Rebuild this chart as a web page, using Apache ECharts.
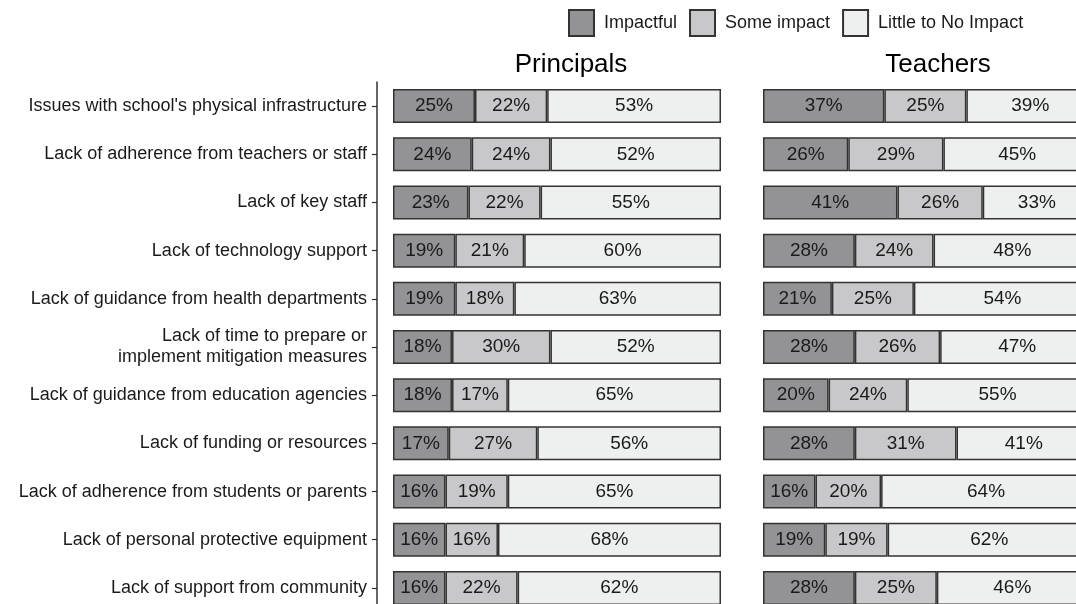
<!DOCTYPE html>
<html>
<head>
<meta charset="utf-8">
<title>Barriers to mitigation</title>
<script src="https://cdn.jsdelivr.net/npm/echarts@6/dist/echarts.min.js"></script>
<style>
  html, body { margin: 0; padding: 0; background: #fff; overflow: hidden; }
  /* canvas a bit larger than the window: bars and rows run past the edges like in the source */
  #chart { width: 1110px; height: 620px; }
</style>
</head>
<body>
<div id="chart"></div>
<script>
// categories, top to bottom
var categories = [
  "Issues with school's physical infrastructure",
  'Lack of adherence from teachers or staff',
  'Lack of key staff',
  'Lack of technology support',
  'Lack of guidance from health departments',
  'Lack of time to prepare or\nimplement mitigation measures',
  'Lack of guidance from education agencies',
  'Lack of funding or resources',
  'Lack of adherence from students or parents',
  'Lack of personal protective equipment',
  'Lack of support from community'
];
var levels = ['Impactful', 'Some impact', 'Little to No Impact'];
var panels = ['Principals', 'Teachers'];

var principalsImpactful = [25, 24, 23, 19, 19, 18, 18, 17, 16, 16, 16];
var principalsSome = [22, 24, 22, 21, 18, 30, 17, 27, 19, 16, 22];
var principalsLittle = [53, 52, 55, 60, 63, 52, 65, 56, 65, 68, 62];

var teachersImpactful = [37, 26, 41, 28, 21, 28, 20, 28, 16, 19, 28];
var teachersSome = [25, 29, 26, 24, 25, 26, 24, 31, 20, 19, 25];
var teachersLittle = [39, 45, 33, 48, 54, 47, 55, 41, 64, 62, 46];

(function (echarts) {
  'use strict';

  var colors = ['#939396', '#c8c8ca', '#eeefef'];
  var edge = '#333333';
  var textColor = '#1a1a1a';
  var font = '"Liberation Sans", Arial, sans-serif';

  var chart = echarts.init(document.getElementById('chart'), null, { renderer: 'canvas' });

  var panelData = [
    [principalsImpactful, principalsSome, principalsLittle],
    [teachersImpactful, teachersSome, teachersLittle]
  ];

  var grids = [
    { left: 393, top: 82, width: 328, height: 530 },
    { left: 763, top: 82, width: 328, height: 530 }
  ];

  var xAxes = grids.map(function (g, i) {
    return { type: 'value', gridIndex: i, min: 0, max: 100, show: false };
  });

  var yAxes = [
    {
      type: 'category', gridIndex: 0, data: categories, inverse: true,
      offset: 16,
      axisLine: { show: true, onZero: false, lineStyle: { color: edge, width: 1.5 } },
      axisTick: { show: true, alignWithLabel: true, length: 5, lineStyle: { color: edge, width: 1.2 } },
      axisLabel: { margin: 10, color: textColor, fontSize: 18, fontFamily: font, lineHeight: 21, align: 'right' },
      splitLine: { show: false }
    },
    {
      type: 'category', gridIndex: 1, data: categories, inverse: true, show: false
    }
  ];

  var series = [];
  panelData.forEach(function (sets, p) {
    sets.forEach(function (vals, k) {
      series.push({
        name: levels[k],
        type: 'bar',
        stack: panels[p],
        xAxisIndex: p,
        yAxisIndex: p,
        barWidth: 34,
        clip: false,
        data: vals,
        itemStyle: { color: colors[k], borderColor: edge, borderWidth: 1.5 },
        label: {
          show: true,
          position: 'inside',
          formatter: '{c}%',
          color: textColor,
          fontSize: 19,
          fontFamily: font
        },
        emphasis: { disabled: true },
        animation: false
      });
    });
  });

  var option = {
    backgroundColor: '#ffffff',
    animation: false,
    legend: {
      data: levels,
      left: 568,
      top: 9,
      padding: 0,
      itemWidth: 25,
      itemHeight: 26,
      itemGap: 12,
      icon: 'rect',
      textStyle: { color: textColor, fontSize: 18, fontFamily: font, padding: [2, 0, 0, 5] },
      selectedMode: false
    },
    graphic: [
      { type: 'text', x: 571, y: 65, style: { text: panels[0], fill: '#000', font: '26px ' + font, textAlign: 'center', textVerticalAlign: 'middle' } },
      { type: 'text', x: 938, y: 65, style: { text: panels[1], fill: '#000', font: '26px ' + font, textAlign: 'center', textVerticalAlign: 'middle' } }
    ],
    grid: grids,
    xAxis: xAxes,
    yAxis: yAxes,
    series: series
  };

  chart.setOption(option);
})(echarts);
</script>
</body>
</html>
